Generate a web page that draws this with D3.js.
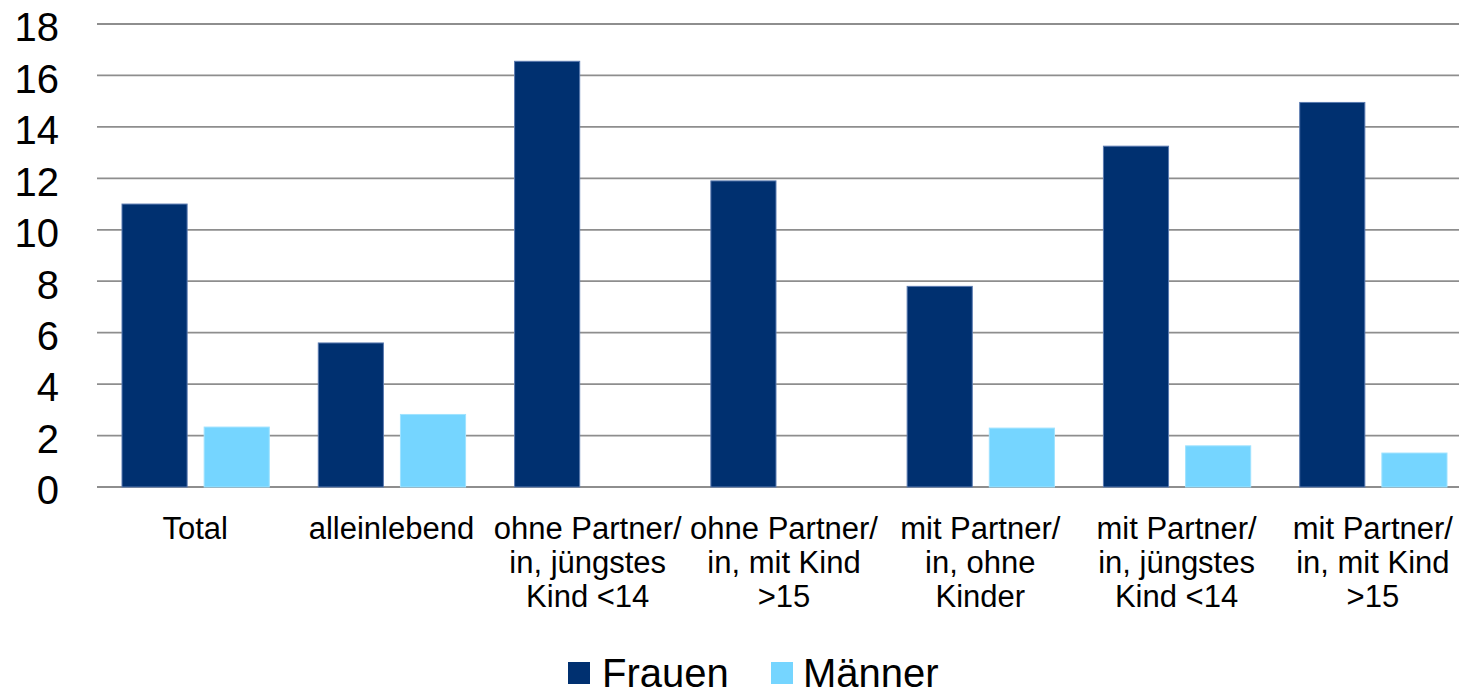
<!DOCTYPE html>
<html>
<head>
<meta charset="utf-8">
<script src="https://cdn.jsdelivr.net/npm/d3@7"></script>
<style>
  html, body { margin: 0; padding: 0; background: #ffffff; }
  svg { display: block; font-family: "Liberation Sans", Arial, sans-serif; }
</style>
</head>
<body>
<svg id="chart" width="1459" height="696"></svg>
<script>
// ---- data ----
const categories = [
  ["Total"],
  ["alleinlebend"],
  ["ohne Partner/", "in, jüngstes", "Kind <14"],
  ["ohne Partner/", "in, mit Kind", ">15"],
  ["mit Partner/", "in, ohne", "Kinder"],
  ["mit Partner/", "in, jüngstes", "Kind <14"],
  ["mit Partner/", "in, mit Kind", ">15"]
];
const seriesNames = ["Frauen", "Männer"];
const frauen = [11.0, 5.6, 16.55, 11.9, 7.8, 13.25, 14.95];
const maenner = [2.33, 2.82, null, null, 2.29, 1.6, 1.32];
const yTicks = [0, 2, 4, 6, 8, 10, 12, 14, 16, 18];
const colors = ["#003070", "#75D5FF"];

// ---- layout ----
const svg = d3.select("#chart");
const plotLeft = 97, plotRight = 1471, plotTop = 24, plotBottom = 487;
const catIdx = categories.map((d, i) => i);

const x0 = d3.scaleBand().domain(catIdx).range([plotLeft, plotRight]).padding(0);
const bw = x0.bandwidth();
const x1 = d3.scaleBand().domain(seriesNames).range([25, bw - 24]).paddingInner(0.2073).paddingOuter(0);
const y = d3.scaleLinear().domain([0, 18]).range([plotBottom, plotTop]);

// gridlines
svg.append("g").selectAll("line").data(yTicks).join("line")
  .attr("x1", plotLeft).attr("x2", 1459)
  .attr("y1", d => y(d)).attr("y2", d => y(d))
  .attr("stroke", "#8e8e8e").attr("stroke-width", 1.8);

// y axis labels
const yAxis = d3.axisLeft(y).tickValues(yTicks).tickSize(0).tickPadding(0);
const yg = svg.append("g").attr("transform", `translate(59,0)`).call(yAxis);
yg.select(".domain").remove();
yg.selectAll("text")
  .attr("font-size", 40).attr("fill", "#000")
  .attr("font-family", "Liberation Sans, Arial, sans-serif")
  .attr("dy", "0.42em");

// bars
const rows = catIdx.map(i => ({ i, values: [frauen[i], maenner[i]] }));
const groups = svg.append("g").selectAll("g").data(rows).join("g")
  .attr("transform", d => `translate(${x0(d.i)},0)`);
groups.selectAll("rect")
  .data(d => d.values.map((v, k) => ({ k, v })).filter(e => e.v !== null))
  .join("rect")
  .attr("x", e => x1(seriesNames[e.k]))
  .attr("width", x1.bandwidth())
  .attr("y", e => y(e.v))
  .attr("height", e => y(0) - y(e.v))
  .attr("fill", e => colors[e.k])
  .attr("stroke", e => e.k === 0 ? "#5a7ab0" : "#9fe2ff")
  .attr("stroke-width", 1);

// category labels
const lab = svg.append("g").selectAll("text").data(rows).join("text")
  .attr("text-anchor", "middle")
  .attr("font-size", 31)
  .attr("fill", "#000")
  .attr("x", d => x0(d.i) + bw / 2)
  .attr("y", 539);
lab.selectAll("tspan").data(d => categories[d.i]).join("tspan")
  .attr("x", function() { return d3.select(this.parentNode).attr("x"); })
  .attr("dy", (d, k) => k === 0 ? 0 : 34)
  .text(d => d);

// legend
const legendItems = [
  { name: seriesNames[0], color: colors[0], sx: 568, tx: 602 },
  { name: seriesNames[1], color: colors[1], sx: 771, tx: 803 }
];
const lg = svg.append("g");
lg.selectAll("rect").data(legendItems).join("rect")
  .attr("x", d => d.sx).attr("y", 662).attr("width", 22).attr("height", 22)
  .attr("fill", d => d.color);
lg.selectAll("text").data(legendItems).join("text")
  .attr("x", d => d.tx).attr("y", 687)
  .attr("font-size", 40).attr("fill", "#000")
  .text(d => d.name);
</script>
</body>
</html>
